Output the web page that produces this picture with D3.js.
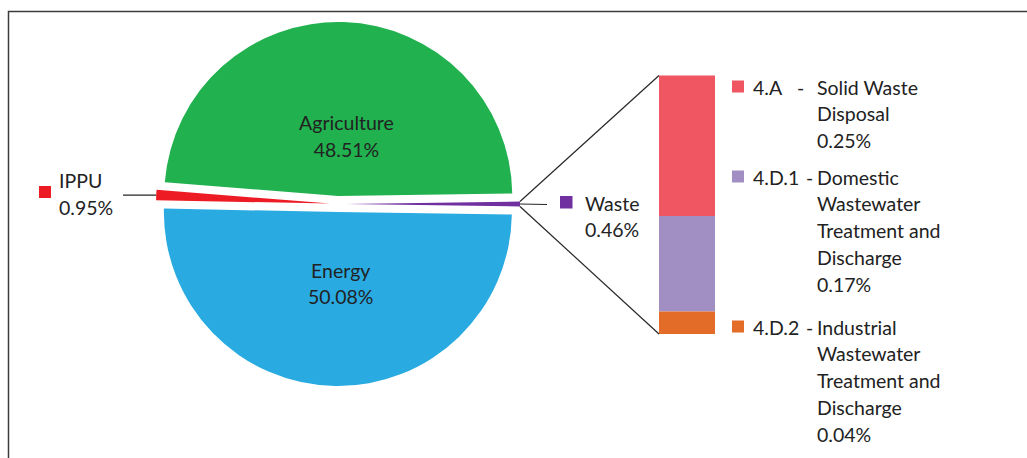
<!DOCTYPE html>
<html>
<head>
<meta charset="utf-8">
<script src="https://cdn.jsdelivr.net/npm/d3@7"></script>
<style>
  html, body { margin: 0; padding: 0; background: #fff; }
  svg { display: block; }
  text { font-family: Lato, "Open Sans", sans-serif; fill: #222; }
</style>
</head>
<body>
<svg id="chart" width="1027" height="458"></svg>
<script>
// ---- data ----
const categories = ["Waste", "Energy", "IPPU", "Agriculture"];
const values = [0.46, 50.08, 0.95, 48.51];
const colors = ["#7030a0", "#29abe2", "#ed1c24", "#21b14f"];

const subCodes = ["4.A", "4.D.1", "4.D.2"];
const subValues = [0.25, 0.17, 0.04];
const subNameLines = [
  ["Solid Waste", "Disposal"],
  ["Domestic", "Wastewater", "Treatment and", "Discharge"],
  ["Industrial", "Wastewater", "Treatment and", "Discharge"]
];
const subColors = ["#f05662", "#a18fc3", "#e36c28"];

// ---- layout ----
const svg = d3.select("#chart");
const cx = 338, cy = 204, R = 174, explode = 8;
const fontSize = 19.5, lineH = 26.8;

// frame
svg.append("path")
  .attr("d", "M8.5,458 V11.5 H1027")
  .attr("fill", "none").attr("stroke", "#3c3c3c").attr("stroke-width", 1.5);

const total = d3.sum(values);
const wasteAngle = values[0] / total * 2 * Math.PI;
const pie = d3.pie().sort(null).value(d => d.v)
  .startAngle(Math.PI / 2 - wasteAngle / 2)
  .endAngle(Math.PI / 2 - wasteAngle / 2 + 2 * Math.PI);
const data = categories.map((c, i) => ({ name: c, v: values[i], color: colors[i] }));
const arcs = pie(data);
const arc = d3.arc().innerRadius(0).outerRadius(R);

const g = svg.append("g").attr("transform", `translate(${cx},${cy})`);
function offset(a) {
  const m = (a.startAngle + a.endAngle) / 2;
  return [Math.sin(m) * explode, -Math.cos(m) * explode];
}
g.selectAll("path.slice").data(arcs).enter().append("path")
  .attr("class", "slice")
  .attr("d", arc)
  .attr("fill", d => d.data.color)
  .attr("transform", d => `translate(${offset(d)})`);

// in-slice labels for big slices
const labelArc = d3.arc().innerRadius(0).outerRadius(R * 0.78);
arcs.filter(a => a.data.v > 10).forEach(a => {
  const [ox, oy] = offset(a);
  const [lx, ly] = labelArc.centroid(a);
  const isTop = Math.cos((a.startAngle + a.endAngle) / 2) > 0;
  const x = lx + ox + (isTop ? 6 : 4);
  const y = ly + oy + (isTop ? 2 : -2);
  const t = g.append("text").attr("text-anchor", "middle").attr("font-size", fontSize)
    .attr("x", x).attr("y", y);
  t.append("tspan").attr("x", x).attr("dy", 0).text(a.data.name);
  t.append("tspan").attr("x", x).attr("dy", 26.5).text(a.data.v.toFixed(2) + "%");
});

// IPPU outside label
const ippu = arcs[2];
{
  const [ox, oy] = offset(ippu);
  const m = (ippu.startAngle + ippu.endAngle) / 2;
  const px = cx + ox + Math.sin(m) * R, py = cy + oy - Math.cos(m) * R;
  svg.append("line").attr("x1", px).attr("y1", py).attr("x2", 123).attr("y2", py)
    .attr("stroke", "#262626").attr("stroke-width", 1.2);
  svg.append("rect").attr("x", 39).attr("y", 186).attr("width", 12).attr("height", 12)
    .attr("fill", ippu.data.color);
  svg.append("text").attr("x", 59).attr("y", 188).attr("font-size", fontSize).text(ippu.data.name);
  svg.append("text").attr("x", 59).attr("y", 214.5).attr("font-size", fontSize).text(ippu.data.v.toFixed(2) + "%");
}

// Waste: bar of pie
const waste = arcs[0];
const [wox, woy] = offset(waste);
const p1 = [cx + wox + Math.sin(waste.startAngle) * R, cy + woy - Math.cos(waste.startAngle) * R];
const p2 = [cx + wox + Math.sin(waste.endAngle) * R, cy + woy - Math.cos(waste.endAngle) * R];
const barX = 659, barW = 56, barTop = 75.5, barBottom = 334;
const yBar = d3.scaleLinear().domain([0, d3.sum(subValues)]).range([barTop, barBottom]);
let acc = 0;
const stack = subValues.map((v, i) => { const s = { y0: acc, y1: acc + v, i }; acc += v; return s; });
svg.selectAll("rect.seg").data(stack).enter().append("rect")
  .attr("class", "seg")
  .attr("x", barX).attr("width", barW)
  .attr("y", d => yBar(d.y0)).attr("height", d => yBar(d.y1) - yBar(d.y0))
  .attr("fill", d => subColors[d.i]);

svg.append("line").attr("x1", p1[0]).attr("y1", p1[1]).attr("x2", barX).attr("y2", yBar(0))
  .attr("stroke", "#262626").attr("stroke-width", 1.2);
svg.append("line").attr("x1", p2[0]).attr("y1", p2[1]).attr("x2", barX).attr("y2", yBar(d3.sum(subValues)))
  .attr("stroke", "#262626").attr("stroke-width", 1.2);

// waste label
const wmy = (p1[1] + p2[1]) / 2;
svg.append("line").attr("x1", (p1[0] + p2[0]) / 2).attr("y1", wmy).attr("x2", 547).attr("y2", wmy + 0.5)
  .attr("stroke", "#262626").attr("stroke-width", 1.2);
svg.append("rect").attr("x", 560).attr("y", 196).attr("width", 12.5).attr("height", 12.5)
  .attr("fill", waste.data.color);
svg.append("text").attr("x", 585).attr("y", 210.5).attr("font-size", fontSize).text(waste.data.name);
svg.append("text").attr("x", 585).attr("y", 237).attr("font-size", fontSize).text(waste.data.v.toFixed(2) + "%");

// right legend
const legendBaselines = [94.5, 184.5, 334.5];
const codeX = 753, dashX = [797, 806, 806], nameX = 817;
subCodes.forEach((code, i) => {
  const by = legendBaselines[i];
  svg.append("rect").attr("x", 732).attr("y", by - 14).attr("width", 12).attr("height", 12)
    .attr("fill", subColors[i]);
  svg.append("text").attr("x", codeX).attr("y", by).attr("font-size", fontSize).text(code);
  svg.append("text").attr("x", dashX[i]).attr("y", by).attr("font-size", fontSize).text("-");
  const lines = subNameLines[i].concat([subValues[i].toFixed(2) + "%"]);
  lines.forEach((ln, j) => {
    svg.append("text").attr("x", nameX).attr("y", by + j * lineH).attr("font-size", fontSize).text(ln);
  });
});
</script>
</body>
</html>
